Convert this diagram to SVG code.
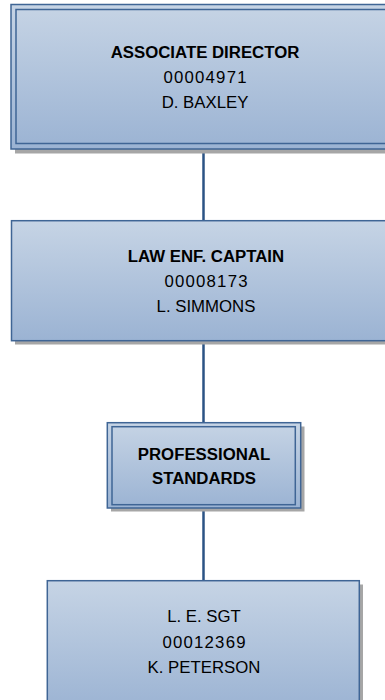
<svg xmlns="http://www.w3.org/2000/svg" width="385" height="700" viewBox="0 0 385 700">
<defs>
<linearGradient id="g" x1="0" y1="0" x2="0" y2="1">
<stop offset="0" stop-color="#c6d4e5"/>
<stop offset="1" stop-color="#9bb3d3"/>
</linearGradient>
<style>
.box{fill:url(#g);stroke:#3f6595;stroke-width:1.5}
.inner{fill:none;stroke:#3f6595;stroke-width:1.5}
.sh{fill:#a6a6a6}
.t{font-family:"Liberation Sans",Arial,sans-serif;font-size:16.8px;fill:#000;text-anchor:middle}
.b{font-weight:bold}
.d{letter-spacing:1.2px}
.c{stroke:#2b5385;stroke-width:2.5;fill:none}
</style>
</defs>
<g id="connectors">
<line class="c" x1="203.5" y1="149" x2="203.5" y2="221"/>
<line class="c" x1="203.5" y1="341" x2="203.5" y2="423"/>
<line class="c" x1="203.5" y1="508" x2="203.5" y2="581"/>
</g>
<g id="associate-director">
<rect class="sh" x="15" y="8.5" width="380" height="145"/>
<rect class="box" x="11" y="4.5" width="380" height="144.5"/>
<rect class="inner" x="16" y="9.5" width="380" height="134"/>
<text class="t b" x="205" y="58">ASSOCIATE DIRECTOR</text>
<text class="t d" x="205.6" y="83">00004971</text>
<text class="t" x="205" y="108">D. BAXLEY</text>
</g>
<g id="law-enf-captain">
<rect class="sh" x="15" y="224.5" width="380" height="120"/>
<rect class="box" x="11.5" y="220.7" width="380" height="120"/>
<text class="t b" x="206" y="262">LAW ENF. CAPTAIN</text>
<text class="t d" x="206.6" y="287">00008173</text>
<text class="t" x="206" y="312">L. SIMMONS</text>
</g>
<g id="professional-standards">
<rect class="sh" x="111" y="426.5" width="193.5" height="85"/>
<rect class="box" x="107.3" y="422.7" width="193.4" height="85.3"/>
<rect class="inner" x="112" y="426.7" width="183.3" height="78"/>
<text class="t b" x="204" y="460">PROFESSIONAL</text>
<text class="t b" x="204" y="484">STANDARDS</text>
</g>
<g id="le-sgt">
<rect class="sh" x="51" y="584.5" width="312" height="130"/>
<rect class="box" x="47.3" y="580.7" width="312" height="130"/>
<text class="t" x="204" y="622">L. E. SGT</text>
<text class="t d" x="204.6" y="648">00012369</text>
<text class="t" x="204" y="673">K. PETERSON</text>
</g>
</svg>
